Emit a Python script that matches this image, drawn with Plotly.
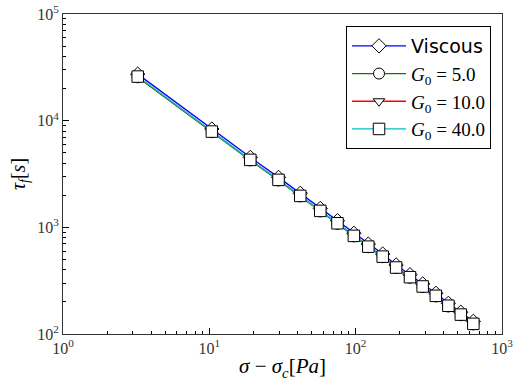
import plotly.graph_objects as go

# data
stress = [3.24, 10.4, 19.05, 29.7, 41.8, 57.3, 75.1, 97.2, 122, 153, 189, 235, 287, 353, 430, 523, 637]
tau_viscous = [27300, 8350, 4530, 2940, 2085, 1505, 1155, 880, 697, 562, 444, 360, 295, 241, 194, 160, 131.5]
tau_g5 = [25500, 7800, 4240, 2750, 1950, 1410, 1080, 822, 651, 525, 415, 337, 275, 225, 181, 150, 123]
tau_g10 = [25800, 7880, 4280, 2780, 1968, 1423, 1090, 830, 658, 530, 419, 340, 278, 227, 183, 151, 124]
tau_g40 = [25900, 7900, 4290, 2785, 1972, 1426, 1092, 832, 659, 531, 420, 341, 279, 228, 184, 152, 124.5]

series_names = ['<span style="font-family:DejaVu Sans">Viscous</span>',
                '<i>G</i><sub>0</sub> = 5.0',
                '<i>G</i><sub>0</sub> = 10.0',
                '<i>G</i><sub>0</sub> = 40.0']
series_values = [tau_viscous, tau_g5, tau_g10, tau_g40]
series_colors = ['#0000ff', '#008000', '#ff0000', '#00bfbf']
series_symbols = ['diamond', 'circle', 'triangle-down', 'square']
series_sizes = [11, 11, 10, 11.5]

x_range_log = [0, 3]
y_range_log = [2, 5]
x_tickvals = [1, 10, 100, 1000]
x_ticktext = ['10<sup>0</sup>', '10<sup>1</sup>', '10<sup>2</sup>', '10<sup>3</sup>']
y_tickvals = [100, 1000, 10000, 100000]
y_ticktext = ['10<sup>2</sup>', '10<sup>3</sup>', '10<sup>4</sup>', '10<sup>5</sup>']
minor_digits = [2, 3, 4, 5, 6, 7, 8, 9]
x_minor_vals = [d * v for v in x_tickvals[:-1] for d in minor_digits]
y_minor_vals = [d * v for v in y_tickvals[:-1] for d in minor_digits]

serif = "Liberation Serif"

fig = go.Figure()
for name, vals, col, sym, sz in zip(series_names, series_values, series_colors, series_symbols, series_sizes):
    fig.add_trace(go.Scatter(
        x=stress, y=vals, mode='lines+markers', name=name,
        line=dict(color=col, width=1.3),
        marker=dict(symbol=sym, size=sz, color='white', line=dict(color='black', width=1)),
    ))

def tick_common(minor_vals):
    return dict(
        type='log', showgrid=False, zeroline=False, automargin=False,
        ticks='inside', ticklen=6, tickcolor='black', tickwidth=1,
        minor=dict(tickmode='array', tickvals=minor_vals, ticks='inside', ticklen=3,
                   tickcolor='black', tickwidth=1, showgrid=False),
    )

fig.update_layout(
    xaxis=dict(range=x_range_log, tickvals=x_tickvals, ticktext=x_ticktext,
               showline=True, linecolor='#333', linewidth=1, mirror=True,
               ticklabeloverflow='allow',
               tickfont=dict(family=serif, size=16, color='#333'),
               title=dict(text='<i>σ</i> − <i>σ</i><sub><i>c</i></sub>[<i>Pa</i>]',
                          font=dict(family=serif, size=21, color='black'), standoff=2),
               **tick_common(x_minor_vals)),
    yaxis=dict(range=y_range_log, tickvals=y_tickvals, ticktext=y_ticktext,
               showline=True, linecolor='#333', linewidth=1, mirror=True,
               ticklabeloverflow='allow',
               tickfont=dict(family=serif, size=16, color='#333'),
               title=dict(text='<i>τ</i><sub><i>f</i></sub>[<i>s</i>]',
                          font=dict(family=serif, size=20, color='black'), standoff=6),
               **tick_common(y_minor_vals)),
    xaxis2=dict(range=x_range_log, tickvals=x_tickvals, overlaying='x', side='top',
                anchor='y', showticklabels=False, showline=False, **tick_common(x_minor_vals)),
    yaxis2=dict(range=y_range_log, tickvals=y_tickvals, overlaying='y', side='right',
                anchor='x', showticklabels=False, showline=False, **tick_common(y_minor_vals)),
)

fig.update_layout(
    width=513, height=381,
    margin=dict(l=63, r=11, t=14, b=47),
    paper_bgcolor='white', plot_bgcolor='white',
    showlegend=True,
    legend=dict(x=0.975, y=0.9625, xanchor='right', yanchor='top',
                bgcolor='white', bordercolor='black', borderwidth=1,
                font=dict(family=serif, size=19, color='black'),
                itemwidth=54),
)

fig.write_html("out.html")
